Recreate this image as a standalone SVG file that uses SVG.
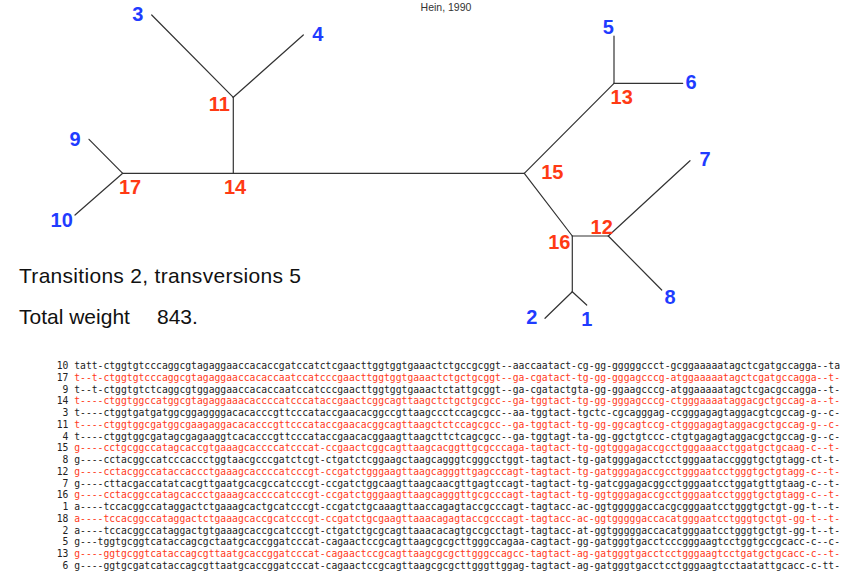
<svg xmlns="http://www.w3.org/2000/svg" width="852" height="573" viewBox="0 0 852 573">
<style>
.bg{fill:#ffffff}
.edge{stroke:#333333;stroke-width:1.2;fill:none;stroke-linecap:round}
.leaf{font-family:"Liberation Sans",Arial,sans-serif;font-weight:bold;font-size:20px;fill:#1f3cff;text-anchor:middle}
.inner{font-family:"Liberation Sans",Arial,sans-serif;font-weight:bold;font-size:20px;fill:#ff3a14;text-anchor:middle}
.info{font-family:"Liberation Sans",Arial,sans-serif;font-size:21px;fill:#111111}
.title{font-family:"Liberation Sans",Arial,sans-serif;font-size:10.5px;fill:#333333;text-anchor:middle}
.num{font-family:"DejaVu Sans Mono","Liberation Mono",monospace;font-size:9.7px;fill:#222222;text-anchor:end}
.seq{font-family:"DejaVu Sans Mono","Liberation Mono",monospace;font-size:9.7px;fill:#222222}
.r{fill:#ff3a22}
</style>
<rect class="bg" x="0" y="0" width="852" height="573"/>
<text class="title" x="446" y="11">Hein, 1990</text>

<g id="connectors">
<line class="edge" x1="151.7" y1="15" x2="233.3" y2="97.3"/>
<line class="edge" x1="303.3" y1="35" x2="233.3" y2="97.3"/>
<line class="edge" x1="233.3" y1="97.3" x2="233.3" y2="173.3"/>
<line class="edge" x1="122.7" y1="173.3" x2="524.3" y2="173.3"/>
<line class="edge" x1="89" y1="139.3" x2="122.7" y2="173.3"/>
<line class="edge" x1="75" y1="215" x2="122.7" y2="173.3"/>
<line class="edge" x1="524.3" y1="173.3" x2="614" y2="83.3"/>
<line class="edge" x1="614" y1="36" x2="614" y2="83.3"/>
<line class="edge" x1="614" y1="83.3" x2="682.7" y2="83.3"/>
<line class="edge" x1="524.3" y1="173.3" x2="572.3" y2="236"/>
<line class="edge" x1="572.3" y1="236" x2="608.3" y2="236"/>
<line class="edge" x1="608.3" y1="236" x2="690" y2="160.7"/>
<line class="edge" x1="608.3" y1="236" x2="661.7" y2="290"/>
<line class="edge" x1="572.3" y1="236" x2="572.3" y2="291.7"/>
<line class="edge" x1="572.3" y1="291.7" x2="545" y2="318.3"/>
<line class="edge" x1="572.3" y1="291.7" x2="586.7" y2="305"/>
</g>

<g id="n3"><text class="leaf" x="137.7" y="20.5">3</text></g>
<g id="n4"><text class="leaf" x="317.7" y="40.5">4</text></g>
<g id="n9"><text class="leaf" x="75" y="145.5">9</text></g>
<g id="n10"><text class="leaf" x="61.7" y="227.2">10</text></g>
<g id="n11"><text class="inner" x="219.3" y="110.5">11</text></g>
<g id="n14"><text class="inner" x="235" y="193.9">14</text></g>
<g id="n17"><text class="inner" x="130" y="193.9">17</text></g>
<g id="n5"><text class="leaf" x="608.3" y="33.9">5</text></g>
<g id="n6"><text class="leaf" x="691" y="88.9">6</text></g>
<g id="n13"><text class="inner" x="621.7" y="103.9">13</text></g>
<g id="n15"><text class="inner" x="552.3" y="178.9">15</text></g>
<g id="n7"><text class="leaf" x="705" y="165.5">7</text></g>
<g id="n12"><text class="inner" x="601.7" y="233.9">12</text></g>
<g id="n16"><text class="inner" x="559.3" y="248.9">16</text></g>
<g id="n8"><text class="leaf" x="670" y="303.9">8</text></g>
<g id="n2"><text class="leaf" x="531.7" y="323.9">2</text></g>
<g id="n1"><text class="leaf" x="586.7" y="325.5">1</text></g>

<text class="info" x="19" y="282.5" textLength="282" lengthAdjust="spacing">Transitions 2, transversions 5</text>
<text class="info" x="19" y="323.5">Total weight<tspan x="157">843.</tspan></text>

<g id="alignment">
<text class="num" x="68.3" y="369">10</text><text class="seq" x="74.2" y="369" textLength="765.8" lengthAdjust="spacing">tatt-ctggtgtcccaggcgtagaggaaccacaccgatccatctcgaacttggtggtgaaactctgccgcggt--aaccaatact-cg-gg-gggggccct-gcggaaaaatagctcgatgccagga--ta</text>
<text class="num" x="68.3" y="380.75">17</text><text class="seq r" x="74.2" y="380.75" textLength="765.8" lengthAdjust="spacing">t--t-ctggtgtcccaggcgtagaggaaccacaccaatccatcccgaacttggtggtgaaactctgctgcggt--ga-cgatact-tg-gg-gggagcccg-atggaaaaatagctcgatgccagga--t-</text>
<text class="num" x="68.3" y="392.5">9</text><text class="seq" x="74.2" y="392.5" textLength="765.8" lengthAdjust="spacing">t--t-ctggtgtctcaggcgtggaggaaccacaccaatccatcccgaacttggtggtgaaactctattgcggt--ga-cgatactgta-gg-ggaagcccg-atggaaaaatagctcgacgccagga--t-</text>
<text class="num" x="68.3" y="404.25">14</text><text class="seq r" x="74.2" y="404.25" textLength="765.8" lengthAdjust="spacing">t----ctggtggccatggcgtagaggaaacaccccatcccataccgaactcggcagttaagctctgctgcgcc--ga-tggtact-tg-gg-gggagcccg-ctgggaaaataggacgctgccag-a--t-</text>
<text class="num" x="68.3" y="416">3</text><text class="seq" x="74.2" y="416" textLength="765.8" lengthAdjust="spacing">t----ctggtgatgatggcggaggggacacacccgttcccataccgaacacggccgttaagccctccagcgcc--aa-tggtact-tgctc-cgcagggag-ccgggagagtaggacgtcgccag-g--c-</text>
<text class="num" x="68.3" y="427.75">11</text><text class="seq r" x="74.2" y="427.75" textLength="765.8" lengthAdjust="spacing">t----ctggtggcgatggcgaagaggacacacccgttcccataccgaacacggcagttaagctctccagcgcc--ga-tggtact-tg-gg-ggcagtccg-ctgggagagtaggacgctgccag-g--c-</text>
<text class="num" x="68.3" y="439.5">4</text><text class="seq" x="74.2" y="439.5" textLength="765.8" lengthAdjust="spacing">t----ctggtggcgatagcgagaaggtcacacccgttcccataccgaacacggaagttaagcttctcagcgcc--ga-tggtagt-ta-gg-ggctgtccc-ctgtgagagtaggacgctgccag-g--c-</text>
<text class="num" x="68.3" y="451.25">15</text><text class="seq r" x="74.2" y="451.25" textLength="765.8" lengthAdjust="spacing">g----cctgcggccatagcaccgtgaaagcaccccatcccat-ccgaactcggcagttaagcacggttgcgcccaga-tagtact-tg-ggtgggagaccgcctgggaaacctggatgctgcaag-c--t-</text>
<text class="num" x="68.3" y="463">8</text><text class="seq" x="74.2" y="463" textLength="765.8" lengthAdjust="spacing">g----cctacggccatcccaccctggtaacgcccgatctcgt-ctgatctcggaagctaagcagggtcgggcctggt-tagtact-tg-gatgggagacctcctgggaataccgggtgctgtagg-ct-t-</text>
<text class="num" x="68.3" y="474.75">12</text><text class="seq r" x="74.2" y="474.75" textLength="765.8" lengthAdjust="spacing">g----cctacggccataccaccctgaaagcaccccatcccgt-ccgatctgggaagttaagcagggttgagcccagt-tagtact-tg-gatgggagaccgcctgggaatcctgggtgctgtagg-c--t-</text>
<text class="num" x="68.3" y="486.5">7</text><text class="seq" x="74.2" y="486.5" textLength="765.8" lengthAdjust="spacing">g----cttacgaccatatcacgttgaatgcacgccatcccgt-ccgatctggcaagttaagcaacgttgagtccagt-tagtact-tg-gatcggagacggcctgggaatcctggatgttgtaag-c--t-</text>
<text class="num" x="68.3" y="498.25">16</text><text class="seq r" x="74.2" y="498.25" textLength="765.8" lengthAdjust="spacing">g----cctacggccatagcaccctgaaagcaccccatcccgt-ccgatctgggaagttaagcagggttgcgcccagt-tagtact-tg-ggtgggagaccgcctgggaatcctgggtgctgtagg-c--t-</text>
<text class="num" x="68.3" y="510">1</text><text class="seq" x="74.2" y="510" textLength="765.8" lengthAdjust="spacing">a----tccacggccataggactctgaaagcactgcatcccgt-ccgatctgcaaagttaaccagagtaccgcccagt-tagtacc-ac-ggtgggggaccacgcgggaatcctgggtgctgt-gg-t--t-</text>
<text class="num" x="68.3" y="521.75">18</text><text class="seq r" x="74.2" y="521.75" textLength="765.8" lengthAdjust="spacing">a----tccacggccataggactctgaaagcaccgcatcccgt-ccgatctgcgaagttaaacagagtaccgcccagt-tagtacc-ac-ggtgggggaccacatgggaatcctgggtgctgt-gg-t--t-</text>
<text class="num" x="68.3" y="533.5">2</text><text class="seq" x="74.2" y="533.5" textLength="765.8" lengthAdjust="spacing">a----tccacggccataggactgtgaaagcaccgcatcccgt-ctgatctgcgcagttaaacacagtgccgcctagt-tagtacc-at-ggtgggggaccacatgggaatcctgggtgctgt-gg-t--t-</text>
<text class="num" x="68.3" y="545.25">5</text><text class="seq" x="74.2" y="545.25" textLength="765.8" lengthAdjust="spacing">g---tggtgcggtcataccagcgctaatgcaccggatcccat-cagaactccgcagttaagcgcgcttgggccagaa-cagtact-gg-gatgggtgacctcccgggaagtcctggtgccgcacc-c--c-</text>
<text class="num" x="68.3" y="557">13</text><text class="seq r" x="74.2" y="557" textLength="765.8" lengthAdjust="spacing">g----ggtgcggtcataccagcgttaatgcaccggatcccat-cagaactccgcagttaagcgcgcttgggccagcc-tagtact-ag-gatgggtgacctcctgggaagtcctgatgctgcacc-c--t-</text>
<text class="num" x="68.3" y="568.75">6</text><text class="seq" x="74.2" y="568.75" textLength="765.8" lengthAdjust="spacing">g----ggtgcgatcataccagcgttaatgcaccggatcccat-cagaactccgcagttaagcgcgcttgggttggag-tagtact-ag-gatgggtgacctcctgggaagtcctaatattgcacc-c-tt-</text>
</g>
</svg>
